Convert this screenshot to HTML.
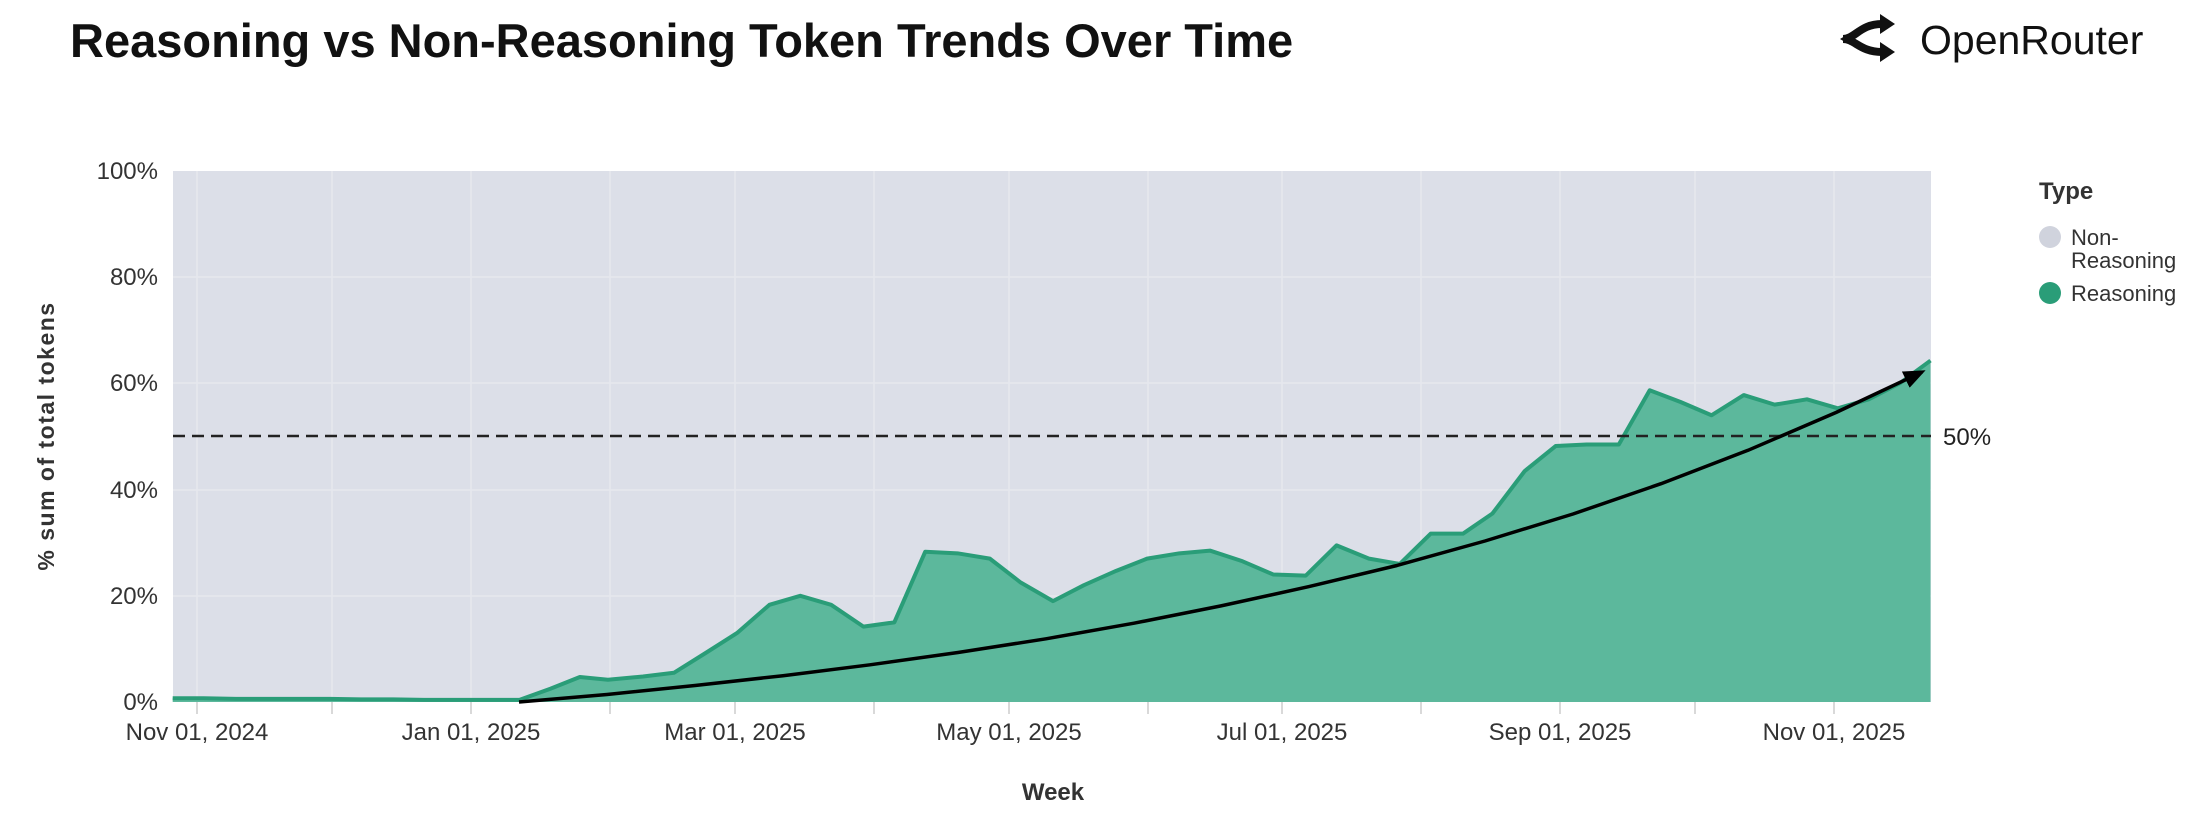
<!DOCTYPE html>
<html><head><meta charset="utf-8"><style>
html,body{margin:0;padding:0;background:#fff;}
body{width:2202px;height:824px;overflow:hidden;font-family:"Liberation Sans",sans-serif;}
</style></head><body>
<svg width="2202" height="824" viewBox="0 0 2202 824" xmlns="http://www.w3.org/2000/svg" font-family="Liberation Sans, sans-serif">
<defs>
<marker id="ah" markerWidth="22" markerHeight="18" refX="18" refY="9" orient="auto" markerUnits="userSpaceOnUse" viewBox="0 0 22 18">
<path d="M0,0 L22,9 L0,18 z" fill="#000"/>
</marker>
</defs>
<text x="70" y="57" font-size="47" font-weight="bold" fill="#111">Reasoning vs Non-Reasoning Token Trends Over Time</text>
<g fill="none" stroke="#111" stroke-width="8" stroke-linecap="butt">
<path d="M1843,39 C1855,39 1860,24 1882,24"/>
<path d="M1843,39 C1855,39 1860,52 1882,52"/>
</g>
<path d="M1880,14 L1895,24 L1880,34 z" fill="#111"/>
<path d="M1880,42 L1895,52 L1880,62 z" fill="#111"/>
<path d="M1840,39 L1850,33 L1850,45 z" fill="#111"/>
<text x="1920" y="54" font-size="41" fill="#111">OpenRouter</text>
<rect x="173" y="171" width="1758" height="531" fill="#dcdfe8"/>
<g stroke="#e6e8ee" stroke-width="1.5">
<line x1="173" x2="1931" y1="277" y2="277"/><line x1="173" x2="1931" y1="383" y2="383"/>
<line x1="173" x2="1931" y1="490" y2="490"/><line x1="173" x2="1931" y1="596" y2="596"/>
<line y1="171" y2="702" x1="197" x2="197"/><line y1="171" y2="702" x1="332" x2="332"/>
<line y1="171" y2="702" x1="471" x2="471"/><line y1="171" y2="702" x1="610" x2="610"/>
<line y1="171" y2="702" x1="735" x2="735"/><line y1="171" y2="702" x1="874" x2="874"/>
<line y1="171" y2="702" x1="1009" x2="1009"/><line y1="171" y2="702" x1="1148" x2="1148"/>
<line y1="171" y2="702" x1="1282" x2="1282"/><line y1="171" y2="702" x1="1421" x2="1421"/>
<line y1="171" y2="702" x1="1560" x2="1560"/><line y1="171" y2="702" x1="1695" x2="1695"/>
<line y1="171" y2="702" x1="1834" x2="1834"/>
</g>
<g transform="translate(0,702) scale(1.404,-5.31)">
<path d="M123,0 L123,0.7 L145,0.7 L168,0.6 L190,0.6 L213,0.6 L235,0.6 L257,0.5 L280,0.5 L302,0.4 L325,0.4 L347,0.4 L370,0.4 L392,2.5 L413,4.7 L433,4.2 L458,4.8 L480,5.5 L503,9.3 L525,13 L548,18.3 L570,20 L592,18.3 L615,14.2 L637,15 L659,28.3 L682,28 L705,27 L727,22.5 L750,19 L772,22 L795,24.7 L817,27 L840,28 L862,28.5 L885,26.5 L907,24 L930,23.8 L952,29.5 L975,27 L997,26 L1019,31.7 L1042,31.7 L1063,35.5 L1086,43.5 L1108,48.2 L1130,48.5 L1153,48.5 L1175,58.7 L1197,56.5 L1219,54 L1242,57.8 L1264,56 L1287,57 L1309,55.3 L1331,57 L1353,60 L1375,64.3 L1375,0 Z" fill="#5cb89c"/>
<path d="M123,0.7 L145,0.7 L168,0.6 L190,0.6 L213,0.6 L235,0.6 L257,0.5 L280,0.5 L302,0.4 L325,0.4 L347,0.4 L370,0.4 L392,2.5 L413,4.7 L433,4.2 L458,4.8 L480,5.5 L503,9.3 L525,13 L548,18.3 L570,20 L592,18.3 L615,14.2 L637,15 L659,28.3 L682,28 L705,27 L727,22.5 L750,19 L772,22 L795,24.7 L817,27 L840,28 L862,28.5 L885,26.5 L907,24 L930,23.8 L952,29.5 L975,27 L997,26 L1019,31.7 L1042,31.7 L1063,35.5 L1086,43.5 L1108,48.2 L1130,48.5 L1153,48.5 L1175,58.7 L1197,56.5 L1219,54 L1242,57.8 L1264,56 L1287,57 L1309,55.3 L1331,57 L1353,60 L1375,64.3" fill="none" stroke="#2a9d78" stroke-width="4" vector-effect="non-scaling-stroke" stroke-linejoin="round"/>
</g>
<line x1="173" x2="1931" y1="436" y2="436" stroke="#222" stroke-width="2.5" stroke-dasharray="12,7"/>
<text x="1943" y="445" font-size="24" fill="#222">50%</text>
<polyline points="519,702 607,694.5 695,685.5 783,675.7 870,664.8 958,652.5 1046,638.8 1134,623.2 1221,605.9 1309,586.6 1397,565.5 1485,541 1573,514 1661,483.7 1748,450.3 1836,412.5 1922,372" fill="none" stroke="#000" stroke-width="3.5" stroke-linejoin="round" marker-end="url(#ah)"/>
<g stroke="#ccc" stroke-width="1.5">
<line y1="702" y2="714" x1="197" x2="197"/><line y1="702" y2="714" x1="332" x2="332"/><line y1="702" y2="714" x1="471" x2="471"/><line y1="702" y2="714" x1="610" x2="610"/><line y1="702" y2="714" x1="735" x2="735"/><line y1="702" y2="714" x1="874" x2="874"/><line y1="702" y2="714" x1="1009" x2="1009"/><line y1="702" y2="714" x1="1148" x2="1148"/><line y1="702" y2="714" x1="1282" x2="1282"/><line y1="702" y2="714" x1="1421" x2="1421"/><line y1="702" y2="714" x1="1560" x2="1560"/><line y1="702" y2="714" x1="1695" x2="1695"/><line y1="702" y2="714" x1="1834" x2="1834"/>
</g>
<g font-size="24" fill="#333" text-anchor="end">
<text x="158" y="179">100%</text><text x="158" y="285">80%</text><text x="158" y="391">60%</text>
<text x="158" y="498">40%</text><text x="158" y="604">20%</text><text x="158" y="710">0%</text>
</g>
<g font-size="24" fill="#333" text-anchor="middle">
<text x="197" y="740">Nov 01, 2024</text><text x="471" y="740">Jan 01, 2025</text><text x="735" y="740">Mar 01, 2025</text>
<text x="1009" y="740">May 01, 2025</text><text x="1282" y="740">Jul 01, 2025</text><text x="1560" y="740">Sep 01, 2025</text>
<text x="1834" y="740">Nov 01, 2025</text>
</g>
<text x="1053" y="800" font-size="24" font-weight="bold" fill="#333" text-anchor="middle">Week</text>
<text transform="translate(54,436) rotate(-90)" font-size="23" font-weight="bold" fill="#333" text-anchor="middle" letter-spacing="1.5">% sum of total tokens</text>
<text x="2039" y="199" font-size="24" font-weight="bold" fill="#333">Type</text>
<circle cx="2050" cy="237" r="11" fill="#d0d3dd"/>
<text x="2071" y="245" font-size="22" fill="#333">Non-</text>
<text x="2071" y="268" font-size="22" fill="#333">Reasoning</text>
<circle cx="2050" cy="293" r="11" fill="#2a9d78"/>
<text x="2071" y="301" font-size="22" fill="#333">Reasoning</text>
</svg>
</body></html>
